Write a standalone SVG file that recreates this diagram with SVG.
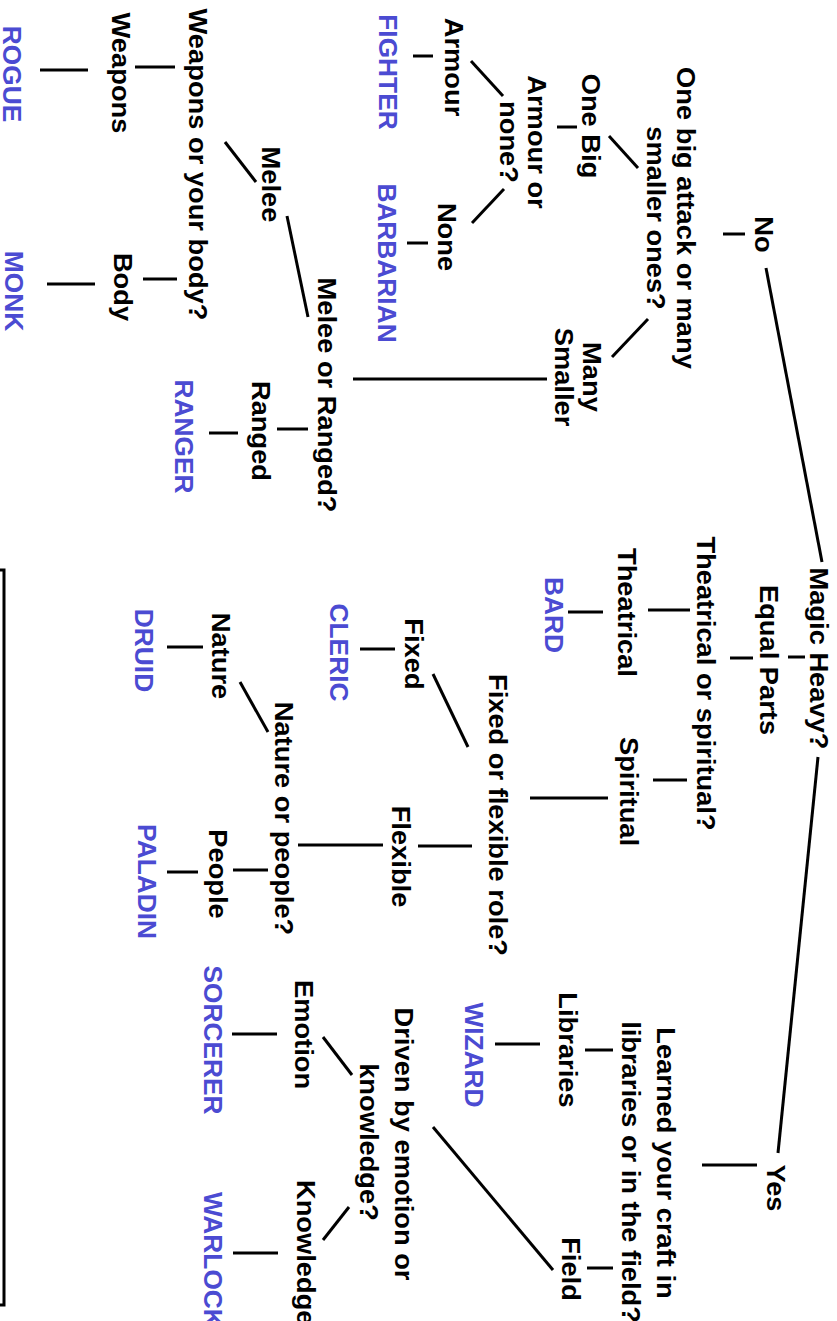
<svg xmlns="http://www.w3.org/2000/svg" width="837" height="1321" viewBox="0 0 837 1321">
<style>
text{font-family:"Liberation Sans",Arial,sans-serif;font-weight:bold;text-anchor:middle}
.q{font-size:27.3px;fill:#000}
.c{font-size:26.3px;fill:#4b4bd2}
.ln{stroke:#000;stroke-width:3;fill:none;stroke-linecap:butt}
</style>
<rect width="837" height="1321" fill="#fff"/>
<g id="connectors" class="ln">
<line x1="766" y1="268" x2="822" y2="562"/>
<line x1="818" y1="757" x2="778" y2="1153"/>
<line x1="723" y1="234" x2="745" y2="234"/>
<line x1="638" y1="168" x2="609" y2="136"/>
<line x1="557" y1="127" x2="577" y2="127"/>
<line x1="648" y1="319" x2="612" y2="357"/>
<line x1="353" y1="379" x2="547" y2="379"/>
<line x1="503" y1="96" x2="471" y2="61"/>
<line x1="413" y1="56" x2="433" y2="56"/>
<line x1="504" y1="189" x2="472" y2="223"/>
<line x1="407" y1="243" x2="428" y2="243"/>
<line x1="308" y1="317" x2="287" y2="216"/>
<line x1="256" y1="182" x2="225" y2="142"/>
<line x1="135" y1="67" x2="175" y2="67"/>
<line x1="40" y1="70" x2="88" y2="70"/>
<line x1="143" y1="279" x2="177" y2="279"/>
<line x1="47" y1="284" x2="95" y2="284"/>
<line x1="277" y1="429" x2="308" y2="429"/>
<line x1="209" y1="433" x2="238" y2="433"/>
<line x1="788" y1="657" x2="805" y2="657"/>
<line x1="730" y1="658" x2="753" y2="658"/>
<line x1="648" y1="610" x2="690" y2="610"/>
<line x1="568" y1="612" x2="603" y2="612"/>
<line x1="653" y1="780" x2="687" y2="780"/>
<line x1="530" y1="798" x2="608" y2="798"/>
<line x1="468" y1="747" x2="433" y2="674"/>
<line x1="360" y1="649" x2="395" y2="649"/>
<line x1="418" y1="846" x2="472" y2="846"/>
<line x1="298" y1="845" x2="383" y2="845"/>
<line x1="268" y1="732" x2="240" y2="682"/>
<line x1="167" y1="647" x2="203" y2="647"/>
<line x1="233" y1="870" x2="268" y2="870"/>
<line x1="167" y1="872" x2="198" y2="872"/>
<line x1="702" y1="1165" x2="757" y2="1165"/>
<line x1="585" y1="1050" x2="613" y2="1050"/>
<line x1="495" y1="1044" x2="540" y2="1044"/>
<line x1="587" y1="1268" x2="613" y2="1268"/>
<line x1="553" y1="1270" x2="433" y2="1127"/>
<line x1="352" y1="1075" x2="323" y2="1037"/>
<line x1="232" y1="1034" x2="277" y2="1034"/>
<line x1="349" y1="1207" x2="323" y2="1240"/>
<line x1="233" y1="1253" x2="278" y2="1253"/>
<path d="M0,570 H4 V1305 H0"/>
</g>
<g id="magic"><text class="q" transform="translate(810,658.5) rotate(90) scale(1,0.92)">Magic Heavy?</text></g>
<g id="no"><text class="q" transform="translate(755,234.5) rotate(90) scale(1,0.92)">No</text></g>
<g id="yes"><text class="q" transform="translate(767,1188) rotate(90) scale(1,0.92)">Yes</text></g>
<g id="q-attack">
<text class="q" transform="translate(677,218) rotate(90) scale(1,0.92)">One big attack or many</text>
<text class="q" transform="translate(647,218) rotate(90) scale(1,0.92)">smaller ones?</text>
</g>
<g id="onebig"><text class="q" transform="translate(582,126) rotate(90) scale(1,0.92)">One Big</text></g>
<g id="manysmaller">
<text class="q" transform="translate(583,377) rotate(90) scale(1,0.92)">Many</text>
<text class="q" transform="translate(555,377) rotate(90) scale(1,0.92)">Smaller</text>
</g>
<g id="q-armour">
<text class="q" transform="translate(528,142) rotate(90) scale(1,0.92)">Armour or</text>
<text class="q" transform="translate(500,142) rotate(90) scale(1,0.92)">none?</text>
</g>
<g id="armour"><text class="q" transform="translate(445,67) rotate(90) scale(1,0.92)">Armour</text></g>
<g id="none"><text class="q" transform="translate(438,237) rotate(90) scale(1,0.92)">None</text></g>
<g id="fighter"><text class="c" transform="translate(379,72) rotate(90)">FIGHTER</text></g>
<g id="barbarian"><text class="c" transform="translate(378,263) rotate(90)">BARBARIAN</text></g>
<g id="q-melee"><text class="q" transform="translate(318,395) rotate(90) scale(1,0.92)">Melee or Ranged?</text></g>
<g id="melee"><text class="q" transform="translate(262,184.5) rotate(90) scale(1,0.92)">Melee</text></g>
<g id="ranged"><text class="q" transform="translate(252,431) rotate(90) scale(1,0.92)">Ranged</text></g>
<g id="ranger"><text class="c" transform="translate(175,436.5) rotate(90)">RANGER</text></g>
<g id="q-weapons"><text class="q" transform="translate(189,164.5) rotate(90) scale(1,0.92)">Weapons or your body?</text></g>
<g id="weapons"><text class="q" transform="translate(112,73) rotate(90) scale(1,0.92)">Weapons</text></g>
<g id="body"><text class="q" transform="translate(114,287) rotate(90) scale(1,0.92)">Body</text></g>
<g id="rogue"><text class="c" transform="translate(3,74) rotate(90)">ROGUE</text></g>
<g id="monk"><text class="c" transform="translate(5,291) rotate(90)">MONK</text></g>
<g id="equal"><text class="q" transform="translate(760,660) rotate(90) scale(1,0.92)">Equal Parts</text></g>
<g id="q-theatrical"><text class="q" transform="translate(697,683.5) rotate(90) scale(1,0.92)">Theatrical or spiritual?</text></g>
<g id="theatrical"><text class="q" transform="translate(618,612.5) rotate(90) scale(1,0.92)">Theatrical</text></g>
<g id="bard"><text class="c" transform="translate(545,615) rotate(90)">BARD</text></g>
<g id="spiritual"><text class="q" transform="translate(620,791.5) rotate(90) scale(1,0.92)">Spiritual</text></g>
<g id="q-fixed"><text class="q" transform="translate(489,815) rotate(90) scale(1,0.92)">Fixed or flexible role?</text></g>
<g id="fixed"><text class="q" transform="translate(405,654) rotate(90) scale(1,0.92)">Fixed</text></g>
<g id="cleric"><text class="c" transform="translate(330,652.5) rotate(90)">CLERIC</text></g>
<g id="flexible"><text class="q" transform="translate(392,856.5) rotate(90) scale(1,0.92)">Flexible</text></g>
<g id="q-nature"><text class="q" transform="translate(275,818.5) rotate(90) scale(1,0.92)">Nature or people?</text></g>
<g id="nature"><text class="q" transform="translate(212,656) rotate(90) scale(1,0.92)">Nature</text></g>
<g id="druid"><text class="c" transform="translate(135,650.5) rotate(90)">DRUID</text></g>
<g id="people"><text class="q" transform="translate(209,874) rotate(90) scale(1,0.92)">People</text></g>
<g id="paladin"><text class="c" transform="translate(138,881.5) rotate(90)">PALADIN</text></g>
<g id="q-learned">
<text class="q" transform="translate(657,1163) rotate(90) scale(1,0.92)">Learned your craft in</text>
<text class="q" transform="translate(622,1172) rotate(90) scale(1,0.92)">libraries or in the field?</text>
</g>
<g id="libraries"><text class="q" transform="translate(559,1050) rotate(90) scale(1,0.92)">Libraries</text></g>
<g id="wizard"><text class="c" transform="translate(465,1055) rotate(90)">WIZARD</text></g>
<g id="field"><text class="q" transform="translate(562,1269) rotate(90) scale(1,0.92)">Field</text></g>
<g id="q-driven">
<text class="q" transform="translate(395,1144) rotate(90) scale(1,0.92)">Driven by emotion or</text>
<text class="q" transform="translate(360,1142) rotate(90) scale(1,0.92)">knowledge?</text>
</g>
<g id="emotion"><text class="q" transform="translate(295,1034.5) rotate(90) scale(1,0.92)">Emotion</text></g>
<g id="sorcerer"><text class="c" transform="translate(204,1040) rotate(90)">SORCERER</text></g>
<g id="knowledge"><text class="q" style="text-anchor:start" transform="translate(297,1180) rotate(90) scale(1,0.92)">Knowledge</text></g>
<g id="warlock"><text class="c" style="text-anchor:start" transform="translate(204,1192) rotate(90)">WARLOCK</text></g>
</svg>
